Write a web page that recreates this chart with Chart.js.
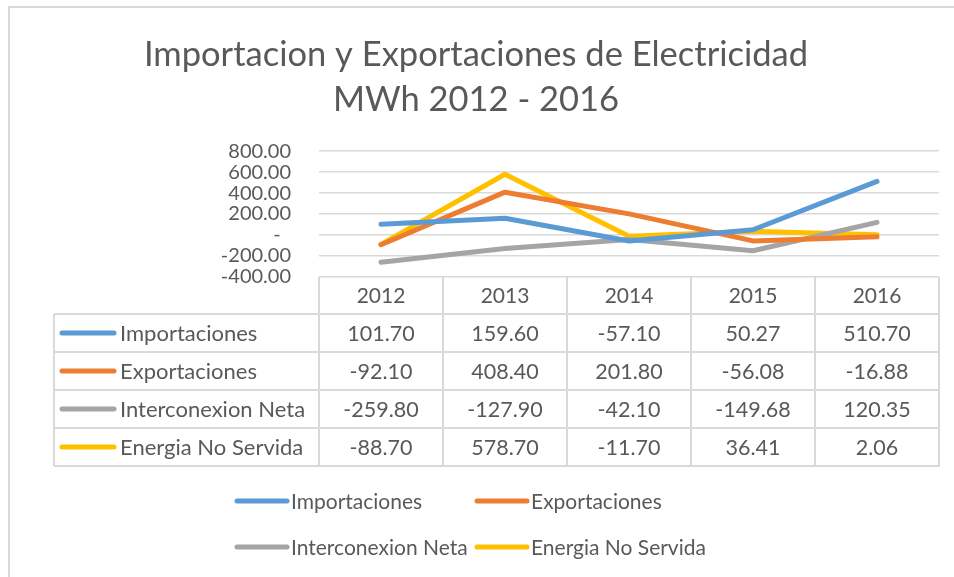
<!DOCTYPE html>
<html>
<head>
<meta charset="utf-8">
<script src="https://cdn.jsdelivr.net/npm/chart.js@4.4.0/dist/chart.umd.min.js"></script>
<style>
  html, body { margin: 0; padding: 0; background: #fff; }
</style>
</head>
<body>
<canvas id="chart" width="954" height="577"></canvas>
<script>
// data (MWh)
const years = ["2012", "2013", "2014", "2015", "2016"];
const importaciones = [101.70, 159.60, -57.10, 50.27, 510.70];
const exportaciones = [-92.10, 408.40, 201.80, -56.08, -16.88];
const interconexionNeta = [-259.80, -127.90, -42.10, -149.68, 120.35];
const energiaNoServida = [-88.70, 578.70, -11.70, 36.41, 2.06];
const seriesNames = ["Importaciones", "Exportaciones", "Interconexion Neta", "Energia No Servida"];
const seriesColors = ["#5B9BD5", "#ED7D31", "#A5A5A5", "#FFC000"];

const FONT = "Lato, 'Open Sans', sans-serif";
const TEXT = "#595959";
const GRID = "#d9d9d9";

function fmt(v) {
  return v.toFixed(2);
}

//Data table under the plot + legend at the bottom
const tablePlugin = {
  id: "dataTable",
  afterDraw(chart) {
    const ctx = chart.ctx;
    const area = chart.chartArea;
    const x = chart.scales.x;
    const sets = chart.data.datasets;
    const half = (x.getPixelForValue(1) - x.getPixelForValue(0)) / 2;
    const headH = 37, rowH = 38, labelLeft = 54;
    const top = area.bottom;
    const bodyTop = top + headH;
    const bottom = bodyTop + rowH * sets.length;

    function line(x1, y1, x2, y2) {
      ctx.beginPath();
      ctx.moveTo(x1, y1);
      ctx.lineTo(x2, y2);
      ctx.stroke();
    }

    ctx.save();
    ctx.strokeStyle = GRID;
    ctx.lineWidth = 2;
    for (let i = 0; i <= years.length; i++) {
      const px = i < years.length ? x.getPixelForValue(i) - half : x.getPixelForValue(years.length - 1) + half;
      line(px, top, px, bottom);
    }
    line(labelLeft, bodyTop, labelLeft, bottom);
    for (let r = 0; r <= sets.length; r++) {
      const py = bodyTop + r * rowH;
      line(labelLeft, py, area.right + 1, py);
    }

    ctx.fillStyle = TEXT;
    ctx.font = "21px " + FONT;
    ctx.textAlign = "center";
    ctx.textBaseline = "middle";
    years.forEach((y, i) => {
      ctx.fillText(y, x.getPixelForValue(i), top + headH / 2 + 1);
    });

    sets.forEach((ds, r) => {
      const cy = bodyTop + r * rowH + rowH / 2 + 1;
      ctx.strokeStyle = ds.borderColor;
      ctx.lineWidth = 5;
      ctx.lineCap = "round";
      line(62, cy - 1, 114, cy - 1);
      ctx.fillStyle = TEXT;
      ctx.textAlign = "left";
      ctx.font = "22px " + FONT;
      ctx.fillText(ds.label, 120, cy);
      ctx.textAlign = "center";
      ctx.font = "21.5px " + FONT;
      ds.data.forEach((v, i) => {
        ctx.fillText(fmt(v), x.getPixelForValue(i), cy);
      });
    });

    // legend below the table
    const legX = [235, 475];
    const legY = [502, 548];
    ctx.font = "21px " + FONT;
    sets.forEach((ds, i) => {
      const lx = legX[i % 2];
      const ly = legY[Math.floor(i / 2)];
      ctx.strokeStyle = ds.borderColor;
      ctx.lineWidth = 5;
      ctx.lineCap = "round";
      line(lx + 2, ly - 1, lx + 52, ly - 1);
      ctx.fillStyle = TEXT;
      ctx.textAlign = "left";
      ctx.fillText(ds.label, lx + 56, ly);
    });

    // chart frame
    ctx.strokeStyle = GRID;
    ctx.lineWidth = 2;
    ctx.strokeRect(9, 7, 1000, 1000);
    ctx.restore();
  }
};

const allSeries = [importaciones, exportaciones, interconexionNeta, energiaNoServida];

new Chart(document.getElementById("chart").getContext("2d"), {
  type: "line",
  data: {
    labels: years,
    datasets: allSeries.map((values, i) => ({
      label: seriesNames[i],
      data: values,
      borderColor: seriesColors[i],
      backgroundColor: seriesColors[i],
      borderWidth: 5,
      pointRadius: 0,
      tension: 0,
      borderCapStyle: "round",
      borderJoinStyle: "round"
    }))
  },
  options: {
    responsive: false,
    animation: false,
    devicePixelRatio: 1,
    layout: { padding: { left: 13, right: 15, top: 0, bottom: 300 } },
    plugins: {
      legend: { display: false },
      tooltip: { enabled: false },
      title: {
        display: true,
        text: ["Importacion y Exportaciones de Electricidad", "MWh 2012 - 2016"],
        color: TEXT,
        font: { family: FONT, size: 34.5, weight: "normal", lineHeight: 1.32 },
        padding: { top: 32, bottom: 28 }
      }
    },
    scales: {
      x: {
        type: "category",
        offset: true,
        display: false
      },
      y: {
        min: -400,
        max: 800,
        afterFit(scale) { scale.width = 306; },
        border: { display: false },
        grid: { color: GRID, lineWidth: 1.5, drawTicks: false },
        ticks: {
          stepSize: 200,
          autoSkip: false,
          padding: 28,
          color: TEXT,
          font: { family: FONT, size: 20 },
          callback: (v) => (v === 0 ? "-  " : fmt(v))
        }
      }
    }
  },
  plugins: [tablePlugin]
});
</script>
</body>
</html>
